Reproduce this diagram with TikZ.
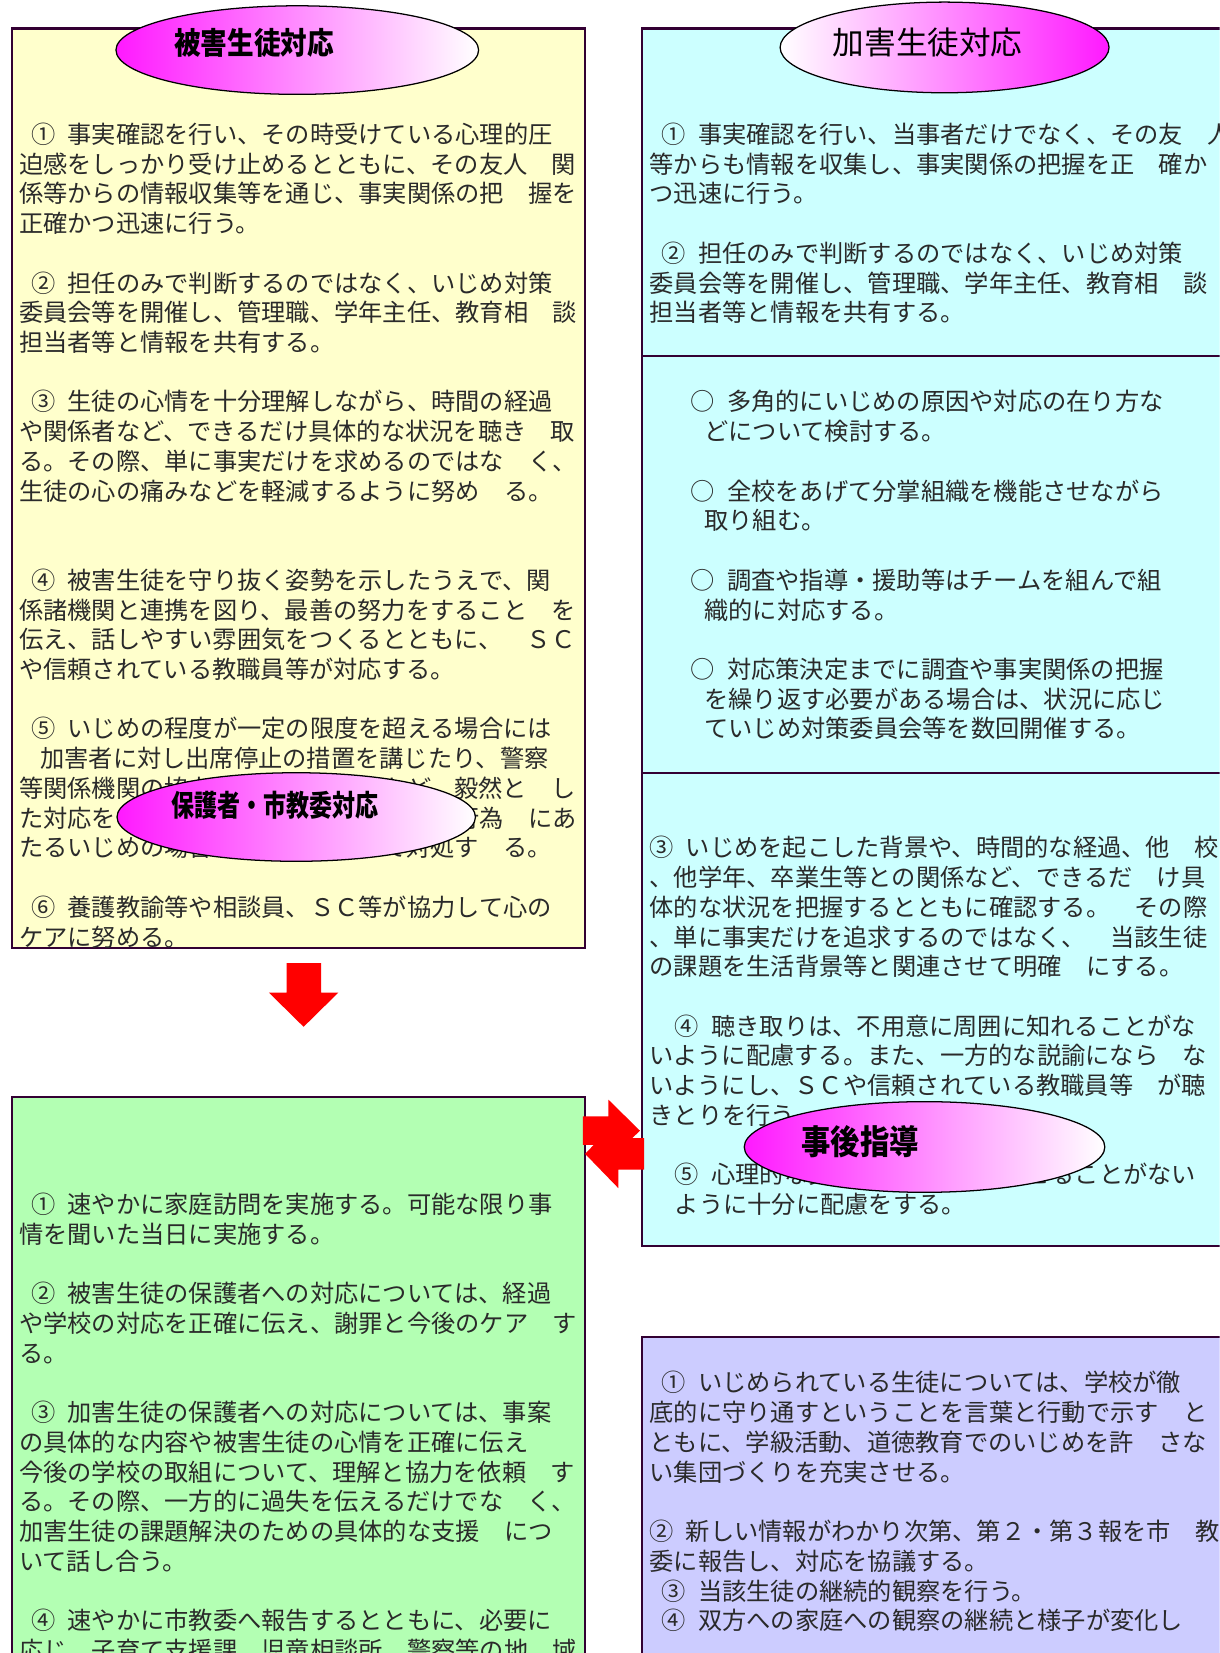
\documentclass[tikz,border=0pt]{standalone}
\usepackage{fontspec}
\setmainfont{Noto Sans CJK JP}
\newfontfamily\headfont[FakeStretch=0.87]{Noto Sans CJK JP}
\newfontfamily\headfontn[FakeStretch=0.78]{Noto Sans CJK JP}
\usetikzlibrary{shapes.geometric}
\definecolor{yel}{HTML}{FFFFCC}
\definecolor{cya}{HTML}{CCFFFF}
\definecolor{gre}{HTML}{B3FFB3}
\definecolor{lav}{HTML}{CCCCFF}
\definecolor{bord}{HTML}{330033}
\definecolor{mag}{HTML}{FF19FF}
\definecolor{txtc}{HTML}{2A2A2A}
\newcommand\hh{\hspace*{11.5pt}}
\newcommand\bodyfont{\fontsize{23pt}{28pt}\selectfont}
\tikzset{
  box/.style={draw=bord, line width=2pt},
  txt/.style={anchor=base west, inner sep=0pt, font=\bodyfont, text=txtc},
  oval/.style={ellipse, draw=black, line width=1.2pt, inner sep=0pt},
  head/.style={inner sep=0pt, text=black},
  redshape/.style={fill=red}
}
\newcommand\tline[4]{\node[txt] (#1) at (#2,{136+28.2*#3}) {#4};}
\begin{document}
\begin{tikzpicture}[x=1pt,y=-1pt]
\useasboundingbox (0,0) rectangle (1157,1568);
\clip (0,0) rectangle (1157,1568);
\fill[white] (0,0) rectangle (1157,1568);

% boxes
\draw[box, fill=yel] (11,27) rectangle (555,899);
\draw[box, fill=cya] (609,27) rectangle (1175,1182);
\draw[box] (609,338) -- (1175,338);
\draw[box] (609,733) -- (1175,733);
\draw[box, fill=gre] (11,1041) rectangle (555,1590);
\draw[box, fill=lav] (609,1268) rectangle (1175,1590);

% red arrows
\fill[redshape] (272,913.5) -- (304.5,913.5) -- (304.5,941.5) -- (321,941.5) -- (288,974) -- (255,941.5) -- (272,941.5) -- cycle;
\fill[redshape] (553,1059) -- (577,1059) -- (577,1043) -- (607,1072.5) -- (577,1102) -- (577,1086) -- (553,1086) -- cycle;
\fill[redshape] (611,1079.5) -- (586.5,1079.5) -- (586.5,1062) -- (555,1094.5) -- (586.5,1127) -- (586.5,1109.5) -- (611,1109.5) -- cycle;

% yellow box text
\tline{ya0}{18}{0}{\hh{}①\hh{}事実確認を行い、その時受けている心理的圧}
\tline{ya1}{18}{1}{迫感をしっかり受け止めるとともに、その友人　関}
\tline{ya2}{18}{2}{係等からの情報収集等を通じ、事実関係の把　握を}
\tline{ya3}{18}{3}{正確かつ迅速に行う。}
\tline{ya5}{18}{5}{\hh{}②\hh{}担任のみで判断するのではなく、いじめ対策}
\tline{ya6}{18}{6}{委員会等を開催し、管理職、学年主任、教育相　談}
\tline{ya7}{18}{7}{担当者等と情報を共有する。}
\tline{ya9}{18}{9}{\hh{}③\hh{}生徒の心情を十分理解しながら、時間の経過}
\tline{ya10}{18}{10}{や関係者など、できるだけ具体的な状況を聴き　取}
\tline{ya11}{18}{11}{る。その際、単に事実だけを求めるのではな　く、}
\tline{ya12}{18}{12}{生徒の心の痛みなどを軽減するように努め　る。}
\tline{ya15}{18}{15}{\hh{}④\hh{}被害生徒を守り抜く姿勢を示したうえで、関}
\tline{ya16}{18}{16}{係諸機関と連携を図り、最善の努力をすること　を}
\tline{ya17}{18}{17}{伝え、話しやすい雰囲気をつくるとともに、　ＳＣ}
\tline{ya18}{18}{18}{や信頼されている教職員等が対応する。}
\tline{ya20}{18}{20}{\hh{}⑤\hh{}いじめの程度が一定の限度を超える場合には}
\tline{ya21}{18}{21}{\hspace*{20pt}加害者に対し出席停止の措置を講じたり、警察}
\tline{ya22}{18}{22}{等関係機関の協力を求めたりするなど、毅然と　し}
\tline{ya23}{18}{23}{た対応をとる。また、そのいじめが犯罪行為　にあ}
\tline{ya24}{18}{24}{たるいじめの場合は警察と連携して対処す　る。}
\tline{ya26}{18}{26}{\hh{}⑥\hh{}養護教諭等や相談員、ＳＣ等が協力して心の}
\tline{ya27}{18}{27}{ケアに努める。}

% cyan box text
\tline{cb0}{616}{0}{\hh{}①\hh{}事実確認を行い、当事者だけでなく、その友　人}
\tline{cb1}{616}{1}{等からも情報を収集し、事実関係の把握を正　確か}
\tline{cb2}{616}{2}{つ迅速に行う。}
\tline{cb4}{616}{4}{\hh{}②\hh{}担任のみで判断するのではなく、いじめ対策}
\tline{cb5}{616}{5}{委員会等を開催し、管理職、学年主任、教育相　談}
\tline{cb6}{616}{6}{担当者等と情報を共有する。}
\tline{cb9}{655}{9}{○\hh{}多角的にいじめの原因や対応の在り方な}
\tline{cb10}{655}{10}{\hspace*{13pt}どについて検討する。}
\tline{cb12}{655}{12}{○\hh{}全校をあげて分掌組織を機能させながら}
\tline{cb13}{655}{13}{\hspace*{13pt}取り組む。}
\tline{cb15}{655}{15}{○\hh{}調査や指導・援助等はチームを組んで組}
\tline{cb16}{655}{16}{\hspace*{13pt}織的に対応する。}
\tline{cb18}{655}{18}{○\hh{}対応策決定までに調査や事実関係の把握}
\tline{cb19}{655}{19}{\hspace*{13pt}を繰り返す必要がある場合は、状況に応じ}
\tline{cb20}{655}{20}{\hspace*{13pt}ていじめ対策委員会等を数回開催する。}
\tline{cb24}{616}{24}{③\hh{}いじめを起こした背景や、時間的な経過、他　校}
\tline{cb25}{616}{25}{、他学年、卒業生等との関係など、できるだ　け具}
\tline{cb26}{616}{26}{体的な状況を把握するとともに確認する。　その際}
\tline{cb27}{616}{27}{、単に事実だけを追求するのではなく、　当該生徒}
\tline{cb28}{616}{28}{の課題を生活背景等と関連させて明確　にする。}
\tline{cb30}{616}{30}{\hspace*{24pt}④\hh{}聴き取りは、不用意に周囲に知れることがな}
\tline{cb31}{616}{31}{いように配慮する。また、一方的な説諭になら　な}
\tline{cb32}{616}{32}{いようにし、ＳＣや信頼されている教職員等　が聴}
\tline{cb33}{616}{33}{きとりを行う。}
\tline{cb35}{616}{35}{\hspace*{24pt}⑤\hh{}心理的な負担や不安を感じさせることがない}
\tline{cb36}{616}{36}{\hspace*{24pt}ように十分に配慮をする。}

% green box text
\tline{gr36}{18}{36}{\hh{}①\hh{}速やかに家庭訪問を実施する。可能な限り事}
\tline{gr37}{18}{37}{情を聞いた当日に実施する。}
\tline{gr39}{18}{39}{\hh{}②\hh{}被害生徒の保護者への対応については、経過}
\tline{gr40}{18}{40}{や学校の対応を正確に伝え、謝罪と今後のケア　す}
\tline{gr41}{18}{41}{る。}
\tline{gr43}{18}{43}{\hh{}③\hh{}加害生徒の保護者への対応については、事案}
\tline{gr44}{18}{44}{の具体的な内容や被害生徒の心情を正確に伝え}
\tline{gr45}{18}{45}{今後の学校の取組について、理解と協力を依頼　す}
\tline{gr46}{18}{46}{る。その際、一方的に過失を伝えるだけでな　く、}
\tline{gr47}{18}{47}{加害生徒の課題解決のための具体的な支援　につ}
\tline{gr48}{18}{48}{いて話し合う。}
\tline{gr50}{18}{50}{\hh{}④\hh{}速やかに市教委へ報告するとともに、必要に}
\tline{gr51}{18}{51}{応じ、子育て支援課、児童相談所、警察等の地　域}

% lavender box text
\tline{lv42}{616}{42}{\hh{}①\hh{}いじめられている生徒については、学校が徹}
\tline{lv43}{616}{43}{底的に守り通すということを言葉と行動で示す　と}
\tline{lv44}{616}{44}{ともに、学級活動、道徳教育でのいじめを許　さな}
\tline{lv45}{616}{45}{い集団づくりを充実させる。}
\tline{lv47}{616}{47}{②\hh{}新しい情報がわかり次第、第２・第３報を市　教}
\tline{lv48}{616}{48}{委に報告し、対応を協議する。}
\tline{lv49}{616}{49}{\hh{}③\hh{}当該生徒の継続的観察を行う。}
\tline{lv50}{616}{50}{\hh{}④\hh{}双方への家庭への観察の継続と様子が変化し}

% ellipses with headings
\node[oval, minimum width=344pt, minimum height=84pt, left color=mag, right color=white] (e1) at (282,47.5) {};
\node[head, font=\headfont\bfseries\fontsize{29pt}{29pt}\selectfont] (h1) at (241,41) {被害生徒対応};
\node[oval, minimum width=312pt, minimum height=86pt, left color=white, right color=mag] (e2) at (896,45) {};
\node[head, font=\fontsize{30pt}{30pt}\selectfont] (h2) at (880,40) {加害生徒対応};
\node[oval, minimum width=340pt, minimum height=84pt, left color=mag, right color=white] (e3) at (281,775) {};
\node[head, font=\headfontn\bfseries\fontsize{28pt}{28pt}\selectfont] (h3) at (261,764) {保護者・市教委対応};
\node[oval, minimum width=342pt, minimum height=86pt, left color=mag, right color=white] (e4) at (877,1088) {};
\node[head, font=\headfont\bfseries\fontsize{32pt}{32pt}\selectfont] (h4) at (816,1083) {事後指導};
\end{tikzpicture}
\end{document}
